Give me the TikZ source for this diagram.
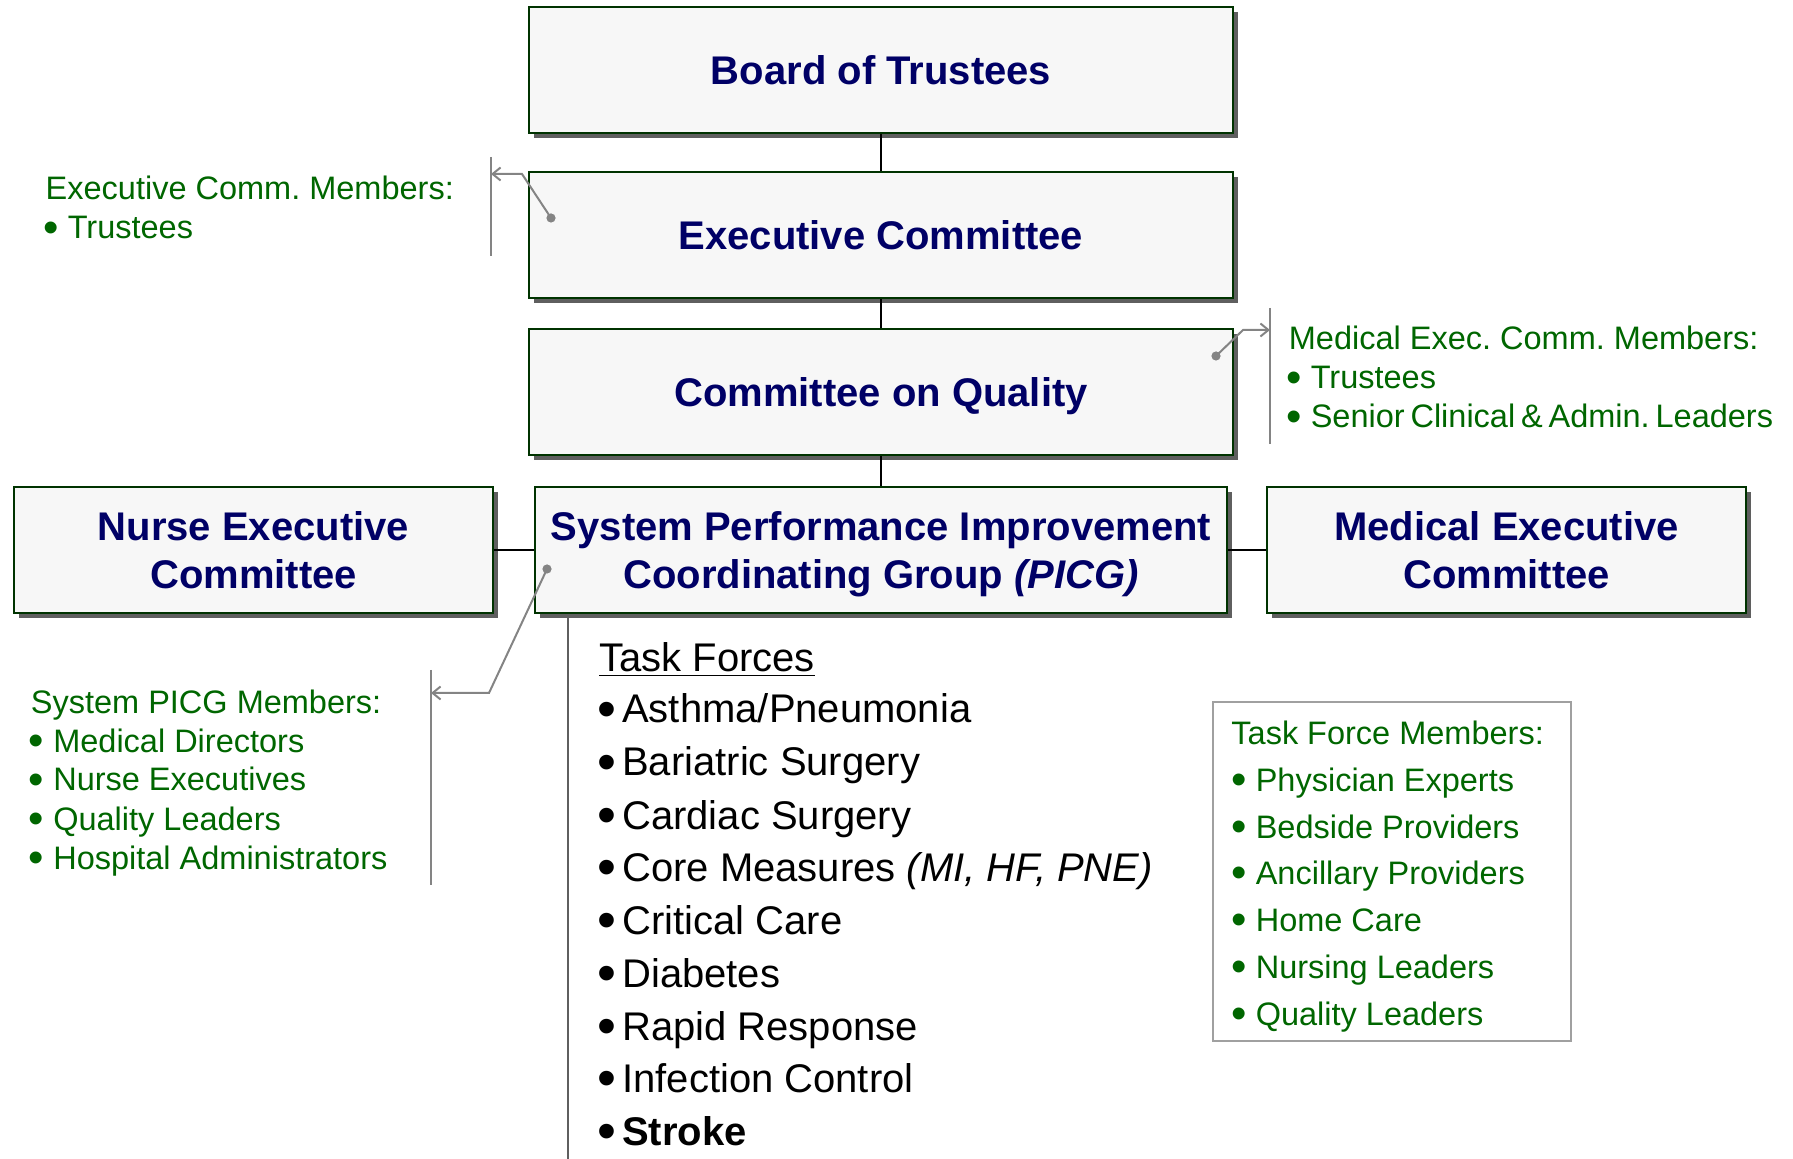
\documentclass[tikz,border=0pt]{standalone}
\usepackage{fontspec}
\setmainfont{Liberation Sans}
\usepackage{xcolor}
\usepackage{graphicx}
\usetikzlibrary{shadows,arrows.meta}
\frenchspacing

\definecolor{boxgreen}{RGB}{0,51,0}
\definecolor{boxfill}{RGB}{247,247,247}
\definecolor{titleblue}{RGB}{0,0,102}
\definecolor{shadowgray}{RGB}{95,95,95}
\definecolor{membergreen}{RGB}{0,102,0}
\definecolor{calloutgray}{RGB}{132,132,132}
\definecolor{framegray}{RGB}{160,160,160}

% large bullets for the lists
\newcommand{\tbul}{\smash{\raisebox{-0.12em}{\scalebox{1.35}{•}}}\hspace{0.15em}}
\newcommand{\mbul}{\smash{\raisebox{-0.1em}{\scalebox{1.35}{•}}}\ }

\begin{document}
\begin{tikzpicture}[x=0.5pt, y=-0.5pt,
    orgbox/.style={draw=boxgreen, line width=1pt, fill=boxfill, text=titleblue, align=center, inner sep=0pt, text depth=0pt, minimum height=63pt, font=\fontsize{20}{24}\selectfont\bfseries, drop shadow={shadow xshift=2.5pt, shadow yshift=-2.5pt, fill=shadowgray, opacity=1}},
    link/.style={line width=1.3pt, black},
    callout/.style={line width=1pt, calloutgray, >={Straight Barb[length=4pt, width=6.5pt]}},
    member/.style={anchor=base west, inner sep=0pt, text=membergreen, font=\fontsize{16.25}{19.5}\selectfont},
    task/.style={anchor=base west, inner sep=0pt, font=\fontsize{20}{24}\selectfont}]
    \useasboundingbox (0,0) rectangle (1793,1159);

    % committee boxes
    \node[orgbox, minimum width=352pt] (board) at (881,70.5) {Board of Trustees};
    \node[orgbox, minimum width=352pt] (exec) at (881,235) {Executive Committee};
    \node[orgbox, minimum width=352pt] (quality) at (881,392) {Committee on Quality};
    \node[orgbox, minimum width=239.5pt] (nurse) at (253.5,550) {Nurse Executive\\Committee};
    \node[orgbox, minimum width=346pt] (picg) at (881,550) {System Performance Improvement\\Coordinating Group \textit{(PICG)}};
    \node[orgbox, minimum width=239.5pt] (medexec) at (1506.5,550) {Medical Executive\\Committee};

    \draw[link] (board) -- (exec);
    \draw[link] (exec) -- (quality);
    \draw[link] (quality) -- (picg);
    \draw[link] (nurse) -- (picg);
    \draw[link] (picg) -- (medexec);

    % task forces
    \coordinate (tfbottom) at (568,1159);
    \draw[line width=1pt, shadowgray] (picg.south -| tfbottom) -- (tfbottom);
    \node[task] (tfhead) at (599,672) {\underline{Task Forces}};
    \node[task] (tf1) at (597,723) {\tbul Asthma/Pneumonia};
    \node[task] (tf2) at (597,776) {\tbul Bariatric Surgery};
    \node[task] (tf3) at (597,829) {\tbul Cardiac Surgery};
    \node[task] (tf4) at (597,881) {\tbul Core Measures \textit{(MI, HF, PNE)}};
    \node[task] (tf5) at (597,934) {\tbul Critical Care};
    \node[task] (tf6) at (597,987) {\tbul Diabetes};
    \node[task] (tf7) at (597,1040) {\tbul Rapid Response};
    \node[task] (tf8) at (597,1092) {\tbul Infection Control};
    \node[task] (tf9) at (597,1145) {\tbul \textbf{Stroke}};

    % member lists
    \node[member] (execm0) at (45.3,200) {Executive Comm. Members:};
    \node[member] (execm1) at (43,239) {\mbul Trustees};

    \node[member] (medm0) at (1288.5,350) {Medical Exec. Comm. Members:};
    \node[member] (medm1) at (1286,389) {\mbul Trustees};
    \node[member] (medm2) at (1286,428) {\mbul {\spaceskip=0.18em Senior Clinical \& Admin. Leaders}};

    \node[member] (picgm0) at (30.5,713) {System PICG Members:};
    \node[member] (picgm1) at (28.5,752) {\mbul Medical Directors};
    \node[member] (picgm2) at (28.5,791) {\mbul Nurse Executives};
    \node[member] (picgm3) at (28.5,830) {\mbul Quality Leaders};
    \node[member] (picgm4) at (28.5,869) {\mbul Hospital Administrators};

    \node[draw=framegray, line width=0.6pt, minimum width=179pt, minimum height=169.5pt] (tfbox) at (1392,871.5) {};
    \node[member] (tfm0) at (1231,744.5) {Task Force Members:};
    \node[member] (tfm1) at (1231,791.5) {\mbul Physician Experts};
    \node[member] (tfm2) at (1231,838) {\mbul Bedside Providers};
    \node[member] (tfm3) at (1231,884.5) {\mbul Ancillary Providers};
    \node[member] (tfm4) at (1231,931.5) {\mbul Home Care};
    \node[member] (tfm5) at (1231,978) {\mbul Nursing Leaders};
    \node[member] (tfm6) at (1231,1025) {\mbul Quality Leaders};

    % callouts
    \coordinate (execbartop) at (491,157);
    \coordinate (execbarbot) at (491,256);
    \coordinate (execdot) at (551,218);
    \coordinate (execbend) at (522,174);
    \draw[callout] (execbartop) -- (execbarbot);
    \draw[callout, ->] (execdot) -- (execbend) -- (execbend -| execbartop);
    \fill[calloutgray] (execdot) circle (2.3pt);

    \coordinate (medbartop) at (1270,308);
    \coordinate (medbarbot) at (1270,444);
    \coordinate (meddot) at (1216,356);
    \coordinate (medbend) at (1243,330);
    \draw[callout] (medbartop) -- (medbarbot);
    \draw[callout, ->] (meddot) -- (medbend) -- (medbend -| medbartop);
    \fill[calloutgray] (meddot) circle (2.3pt);

    \coordinate (picgbartop) at (431,670);
    \coordinate (picgbarbot) at (431,885);
    \coordinate (picgdot) at (547,569);
    \coordinate (picgbend) at (489,693);
    \draw[callout] (picgbartop) -- (picgbarbot);
    \draw[callout, ->] (picgdot) -- (picgbend) -- (picgbend -| picgbartop);
    \fill[calloutgray] (picgdot) circle (2.3pt);
\end{tikzpicture}
\end{document}
